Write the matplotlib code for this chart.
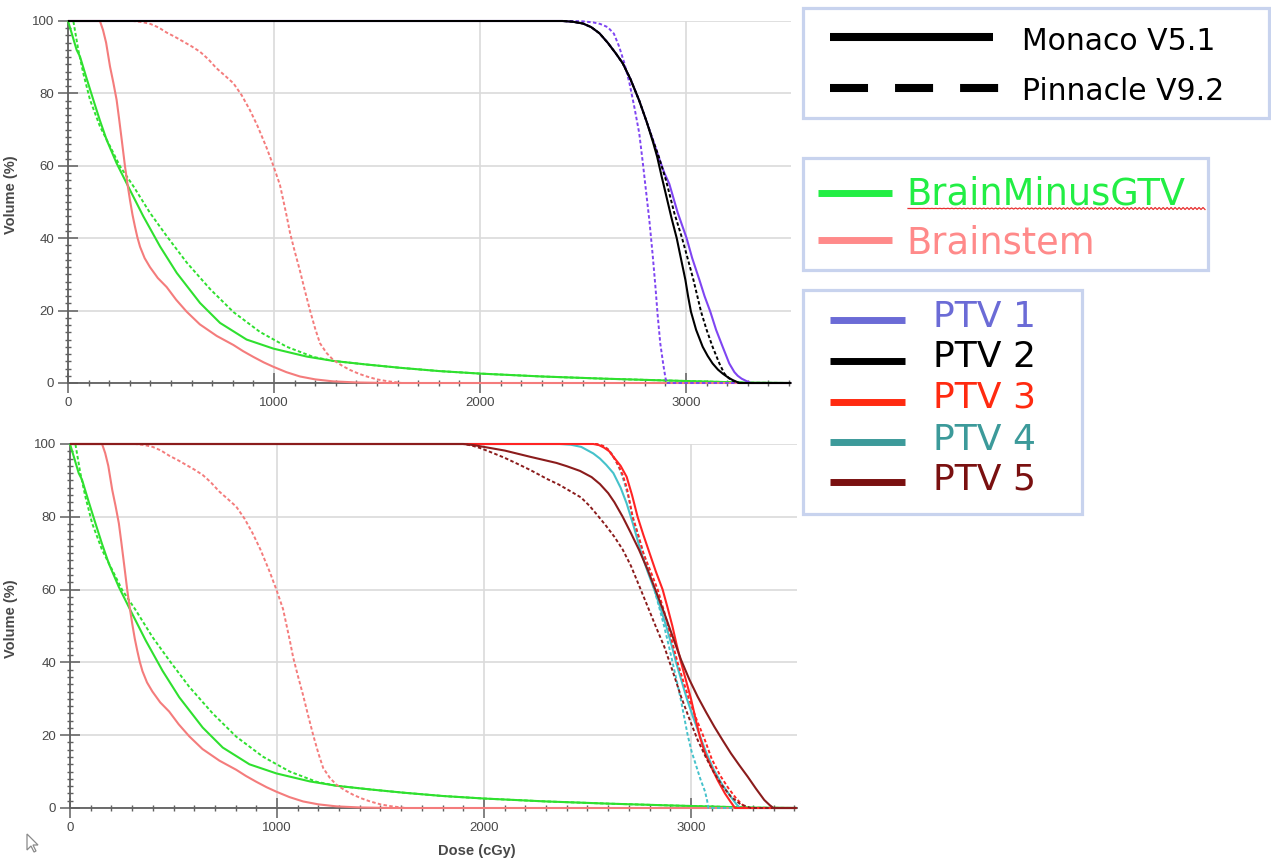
import numpy as np
import matplotlib
matplotlib.use("Agg")
import matplotlib.pyplot as plt
from matplotlib.ticker import MultipleLocator, FixedLocator
from matplotlib.patches import Rectangle, Polygon
from matplotlib import font_manager

# ---------------- data (dose in cGy, volume in %) ----------------
# Brain minus GTV (identical in both panels)
brain_mon_dose = [0, 18, 42, 58, 90, 123, 155, 188, 236, 301, 366, 447, 528, 641, 738, 867, 997, 1159, 1288, 1450, 1612, 1800, 2000, 2300, 2600, 2900, 3100, 3300, 3510]
brain_mon_vol = [100, 96.6, 92, 90.2, 84.2, 78.2, 72.5, 67.1, 60.7, 53.3, 46, 37.7, 30.4, 22.1, 16.6, 12, 9.5, 7.3, 6.1, 5.1, 4.2, 3.3, 2.6, 1.8, 1.2, 0.7, 0.4, 0.1, 0]
brain_pin_dose = [0, 26, 50, 74, 107, 155, 204, 252, 317, 398, 479, 576, 689, 803, 932, 1062, 1191, 1288, 1450, 1612, 1800, 2000, 2300, 2600, 2900, 3100, 3300, 3510]
brain_pin_vol = [100, 100, 92, 85.6, 78.2, 70.9, 65.4, 59.9, 54.4, 47, 40.6, 33.3, 26, 19.6, 14.1, 10, 7.2, 6.1, 5.1, 4.2, 3.3, 2.6, 1.8, 1.2, 0.7, 0.4, 0.1, 0]

# Brainstem (identical in both panels)
bs_mon_dose = [0, 155, 170, 185, 204, 220, 236, 248, 261, 277, 290, 301, 313, 325, 337, 350, 372, 398, 436, 479, 525, 576, 640, 722, 803, 850, 900, 950, 996, 1060, 1126, 1200, 1287, 1400, 1550, 3510]
bs_mon_vol = [100, 100, 97.5, 94, 87.4, 83, 78.2, 73, 67.1, 59.7, 54.5, 50.5, 46.5, 43.2, 40.2, 37.6, 34.5, 32, 29, 26.5, 23, 19.7, 16.2, 13, 10.5, 8.8, 7.2, 5.7, 4.5, 3, 1.8, 1, 0.45, 0.15, 0, 0]
bs_pin_dose = [0, 316, 360, 400, 440, 479, 520, 560, 600, 641, 680, 720, 760, 803, 843, 883, 920, 964, 997, 1029, 1045, 1062, 1078, 1100, 1126, 1150, 1175, 1200, 1223, 1255, 1287, 1330, 1369, 1410, 1450, 1500, 1550, 1620, 3510]
bs_pin_vol = [100, 100, 99.7, 99.2, 98.2, 96.8, 95.6, 94.3, 93, 91.5, 89.5, 87, 85, 82.8, 79.5, 75.4, 71, 65, 60, 54.7, 50.5, 46, 41.4, 36.5, 31, 25.5, 20, 15, 11, 8.3, 6.4, 4.8, 3.6, 2.6, 1.8, 1, 0.5, 0, 0]

# Top panel PTVs
ptv1_mon_dose = [0, 2400, 2450, 2500, 2540, 2580, 2620, 2660, 2693, 2730, 2773, 2810, 2840, 2870, 2895, 2919, 2960, 3003, 3030, 3065, 3090, 3118, 3146, 3178, 3210, 3235, 3251, 3270, 3291, 3315, 3510]
ptv1_mon_vol = [100, 100, 99.8, 99.3, 98.3, 96.6, 94, 91, 88.3, 84, 78, 72, 67, 62, 58, 55, 47, 40, 34.5, 28.5, 24, 19.7, 14.7, 10, 5.4, 3, 2, 1.2, 0.6, 0, 0]
ptv1_pin_dose = [0, 2450, 2500, 2550, 2583, 2620, 2650, 2675, 2700, 2725, 2750, 2773, 2790, 2806, 2822, 2838, 2851, 2862, 2875, 2890, 2900, 2906, 3510]
ptv1_pin_vol = [100, 100, 99.9, 99.6, 99.2, 98.3, 96.5, 93, 88.5, 83, 76, 69, 61, 53, 45, 35.5, 27, 19, 11, 5, 1.5, 0, 0]
ptv2_mon_dose = [0, 2400, 2450, 2500, 2540, 2580, 2620, 2660, 2693, 2730, 2773, 2810, 2840, 2860, 2882, 2905, 2930, 2955, 2975, 2997, 3010, 3024, 3049, 3081, 3105, 3129, 3155, 3178, 3205, 3227, 3259, 3510]
ptv2_mon_vol = [100, 100, 99.8, 99.3, 98.3, 96.6, 94, 91, 88.3, 84, 78, 72, 66.5, 62.5, 57, 51.5, 45.5, 40, 34.5, 28.5, 24, 19.7, 14.7, 10, 7.5, 5.4, 3.7, 2.6, 1.5, 0.8, 0, 0]
ptv2_pin_dose = [0, 2400, 2450, 2500, 2540, 2580, 2620, 2660, 2693, 2730, 2773, 2810, 2840, 2868, 2903, 2943, 2981, 3010, 3036, 3055, 3073, 3100, 3129, 3162, 3186, 3218, 3259, 3510]
ptv2_pin_vol = [100, 100, 99.8, 99.3, 98.3, 96.6, 94, 91, 88.3, 84, 78, 72, 67, 62.5, 56, 47, 40, 34, 28.5, 24, 19.7, 14.7, 10, 5.4, 2.6, 0.8, 0, 0]

# Bottom panel PTVs
ptv3_mon_dose = [0, 2528, 2555, 2580, 2605, 2625, 2660, 2689, 2715, 2742, 2770, 2800, 2830, 2863, 2887, 2910, 2930, 2952, 2976, 3000, 3022, 3043, 3068, 3100, 3130, 3164, 3190, 3213, 3510]
ptv3_mon_vol = [100, 100, 99.7, 99, 98, 96.5, 94, 91, 86, 80, 75, 70, 65, 60, 55, 50, 45, 40, 35, 30, 24.5, 19.5, 15, 11, 7.5, 4, 1.8, 0, 0]
ptv3_pin_dose = [0, 2545, 2575, 2600, 2625, 2650, 2670, 2690, 2718, 2745, 2770, 2805, 2839, 2865, 2890, 2912, 2935, 2962, 2990, 3022, 3065, 3100, 3140, 3180, 3220, 3250, 3269, 3510]
ptv3_pin_vol = [100, 100, 99.5, 98.5, 96.5, 94, 91.5, 88, 80, 75, 70, 65, 60, 55, 50, 45, 40, 35, 30, 25, 19, 13.5, 9, 5.5, 2.5, 0.8, 0, 0]
ptv4_mon_dose = [0, 2367, 2420, 2470, 2528, 2560, 2590, 2625, 2660, 2689, 2720, 2760, 2790, 2823, 2852, 2880, 2905, 2928, 2954, 2980, 3010, 3045, 3075, 3110, 3150, 3196, 3220, 3237, 3510]
ptv4_mon_vol = [100, 100, 99.8, 99.2, 97.4, 96, 94.3, 92, 88, 83.7, 78, 70, 65, 60, 55, 50, 45, 40, 35, 30, 25, 19.5, 15, 10.5, 6.5, 2.8, 1, 0, 0]
ptv4_pin_dose = [0, 2540, 2565, 2590, 2615, 2640, 2660, 2680, 2700, 2718, 2745, 2770, 2797, 2823, 2847, 2870, 2891, 2911, 2931, 2950, 2967, 2984, 3003, 3020, 3045, 3068, 3078, 3084, 3510]
ptv4_pin_vol = [100, 100, 99.6, 99, 97.5, 95, 92.5, 89, 85, 80, 75, 70, 65, 60, 55, 50, 45, 40, 35, 30, 25, 20, 15.5, 12.5, 8, 4.5, 2, 0, 0]
ptv5_mon_dose = [0, 1900, 1950, 2000, 2100, 2222, 2350, 2400, 2464, 2520, 2560, 2600, 2630, 2670, 2710, 2750, 2791, 2831, 2871, 2912, 2952, 2992, 3032, 3073, 3113, 3153, 3193, 3234, 3274, 3314, 3354, 3380, 3398, 3510]
ptv5_mon_vol = [100, 100, 99.7, 99.2, 98.2, 96.5, 94.8, 93.9, 92.6, 90.9, 89, 86.5, 84, 80, 75.5, 70.8, 65.4, 59.5, 53.5, 47, 40.7, 35.3, 30.6, 26.3, 22.3, 18.6, 15, 11.7, 8.6, 5.3, 2.2, 0.8, 0, 0]
ptv5_pin_dose = [0, 1900, 1940, 1981, 2040, 2100, 2160, 2222, 2265, 2308, 2360, 2400, 2469, 2510, 2550, 2590, 2630, 2670, 2710, 2750, 2791, 2831, 2871, 2912, 2952, 2992, 3032, 3073, 3113, 3153, 3193, 3240, 3290, 3510]
ptv5_pin_vol = [100, 100, 99.6, 98.9, 97.6, 96.2, 94.6, 92.9, 91.6, 90.3, 88.9, 87.6, 85.3, 83, 80.3, 77.5, 74.5, 71, 66.5, 61, 55.3, 49.7, 44.3, 37.5, 30.6, 24.5, 18.7, 13.8, 9.5, 6, 3.1, 1, 0, 0]

x_ticks = [0, 1000, 2000, 3000]
y_ticks = [0, 20, 40, 60, 80, 100]
x_max = 3510

# legend entries
plan_labels = ["Monaco V5.1", "Pinnacle V9.2"]
organ_labels = ["BrainMinusGTV", "Brainstem"]
ptv_labels = ["PTV 1", "PTV 2", "PTV 3", "PTV 4", "PTV 5"]

# ---------------- styles ----------------
C_BRAIN = "#2fe02f"
C_BS = "#f47c7c"
C_PTV1 = "#7f45f2"
C_PTV2 = "#000000"
C_PTV3 = "#ff2424"
C_PTV4 = "#45c2cb"
C_PTV5 = "#8b1c1c"
LEG_COLORS = ["#6b6bd6", "#000000", "#ff2a10", "#3c9a9a", "#7a1010"]
ORGAN_LEG_COLORS = ["#22ee44", "#ff8a8a"]
SOLID = dict(lw=1.5, ls="-")
DASH = dict(lw=1.4, ls=(0, (1.8, 1.2)))

names = {f.name for f in font_manager.fontManager.ttflist}
NARROW = "Liberation Sans Narrow" if "Liberation Sans Narrow" in names else "Liberation Sans"
TICK_FS = 10.5 if NARROW == "Liberation Sans Narrow" else 9.5
LAB_FS = 12 if NARROW == "Liberation Sans Narrow" else 10.5

W, H = 1271, 859
fig = plt.figure(figsize=(W / 100, H / 100), dpi=100)


def panel(rect_px, series, xlabel=None, label_x=0.56):
    left, top, right, bottom = rect_px
    ax = fig.add_axes([left / W, 1 - bottom / H, (right - left) / W, (bottom - top) / H])
    for d, v, c, st in series:
        ax.plot(d, v, color=c, clip_on=False, solid_capstyle="butt",
                solid_joinstyle="round", **st)
    ax.set_xlim(0, x_max)
    ax.set_ylim(0, 100)
    ax.xaxis.set_major_locator(FixedLocator(x_ticks))
    ax.yaxis.set_major_locator(FixedLocator(y_ticks))
    ax.xaxis.set_minor_locator(MultipleLocator(100))
    ax.yaxis.set_minor_locator(MultipleLocator(2))
    ax.set_axisbelow(True)
    ax.grid(which="major", color="#dadada", lw=1.2)
    for s in ("top", "right"):
        ax.spines[s].set_visible(False)
    for s in ("left", "bottom"):
        ax.spines[s].set_color("#606060")
        ax.spines[s].set_linewidth(1.3)
        ax.spines[s].set_zorder(1.5)
    ax.tick_params(which="major", direction="inout", length=14, width=1.1,
                   color="#606060", labelcolor="#484848", labelsize=TICK_FS,
                   labelfontfamily=NARROW, pad=3)
    ax.tick_params(which="minor", direction="inout", length=5, width=1.0, color="#606060")
    ax.set_ylabel("Volume (%)", fontsize=LAB_FS, fontweight="bold", color="#484848",
                  fontfamily=NARROW)
    ax.yaxis.set_label_coords((18 - left) / (right - left), 0.52)
    if xlabel:
        ax.set_xlabel(xlabel, fontsize=LAB_FS, fontweight="bold", color="#484848",
                      fontfamily=NARROW)
        ax.xaxis.set_label_coords(label_x, -0.1)
    ax.patch.set_alpha(0)
    return ax


top_series = [
    (brain_mon_dose, brain_mon_vol, C_BRAIN, SOLID),
    (brain_pin_dose, brain_pin_vol, C_BRAIN, DASH),
    (bs_mon_dose, bs_mon_vol, C_BS, SOLID),
    (bs_pin_dose, bs_pin_vol, C_BS, DASH),
    (ptv1_mon_dose, ptv1_mon_vol, C_PTV1, SOLID),
    (ptv1_pin_dose, ptv1_pin_vol, C_PTV1, DASH),
    (ptv2_pin_dose, ptv2_pin_vol, C_PTV2, DASH),
    (ptv2_mon_dose, ptv2_mon_vol, C_PTV2, SOLID),
]
bottom_series = [
    (brain_mon_dose, brain_mon_vol, C_BRAIN, SOLID),
    (brain_pin_dose, brain_pin_vol, C_BRAIN, DASH),
    (bs_mon_dose, bs_mon_vol, C_BS, SOLID),
    (bs_pin_dose, bs_pin_vol, C_BS, DASH),
    (ptv4_mon_dose, ptv4_mon_vol, C_PTV4, SOLID),
    (ptv4_pin_dose, ptv4_pin_vol, C_PTV4, DASH),
    (ptv3_pin_dose, ptv3_pin_vol, C_PTV3, DASH),
    (ptv3_mon_dose, ptv3_mon_vol, C_PTV3, SOLID),
    (ptv5_pin_dose, ptv5_pin_vol, C_PTV5, DASH),
    (ptv5_mon_dose, ptv5_mon_vol, C_PTV5, SOLID),
]

panel((68, 21, 68 + x_max * 0.206, 383), top_series)
left_b = 70
right_b = 70 + x_max * 0.207
panel((left_b, 444, right_b, 808), bottom_series, xlabel="Dose (cGy)",
      label_x=(477 - left_b) / (right_b - left_b))

# ---------------- legend boxes (overlay in pixel coordinates) ----------------
ov = fig.add_axes([0, 0, 1, 1])
ov.set_xlim(0, W)
ov.set_ylim(H, 0)
ov.axis("off")
ov.patch.set_alpha(0)
BOX = "#c8d3ee"
LEG_FONT = "DejaVu Sans"

for (x0, y0, x1, y1) in [(803, 8, 1269, 118), (803, 158, 1208, 270), (803, 290, 1082, 514)]:
    ov.add_patch(Rectangle((x0, y0), x1 - x0, y1 - y0, fill=False, ec=BOX, lw=2.3))

ov.plot([830, 993], [37, 37], color="black", lw=5.8, solid_capstyle="butt")
ov.plot([830, 1000], [88, 88], color="black", lw=5.8, ls=(0, (38 / 8.05, 27 / 8.05)),
        dash_capstyle="butt")
ov.text(1022, 42, plan_labels[0], fontsize=21.5, family=LEG_FONT, va="center", ha="left")
ov.text(1022, 92, plan_labels[1], fontsize=21.5, family=LEG_FONT, va="center", ha="left")

for i, (lab, col) in enumerate(zip(organ_labels, ORGAN_LEG_COLORS)):
    ly = [193, 240][i]
    ty = [194, 243][i]
    ov.plot([818, 892], [ly, ly], color=col, lw=5, solid_capstyle="butt")
    ov.text(906, ty, lab, fontsize=26.5, family=LEG_FONT, color=col, va="center", ha="left")
# spell-check squiggle under BrainMinusGTV
sq_x = np.linspace(908, 1205, 150)
ov.plot(sq_x, 208.5 + 1.0 * np.sin(sq_x * 2 * np.pi / 4), color="#e83030", lw=0.9)

for i, (lab, col) in enumerate(zip(ptv_labels, LEG_COLORS)):
    ly = [320, 361, 402, 442, 482][i]
    ty = [317, 357, 398, 440, 480][i]
    ov.plot([830, 905], [ly, ly], color=col, lw=5, solid_capstyle="butt")
    ov.text(933, ty, lab, fontsize=26, family=LEG_FONT, color=col, va="center", ha="left")

# mouse cursor glyph at lower left
ov.add_patch(Polygon([(27, 834), (27, 850), (31, 846), (34, 852), (36, 851), (33, 845), (38, 845)],
                     closed=True, fc="white", ec="#8a8a8a", lw=0.9))

fig.savefig("out.png", dpi=100)
